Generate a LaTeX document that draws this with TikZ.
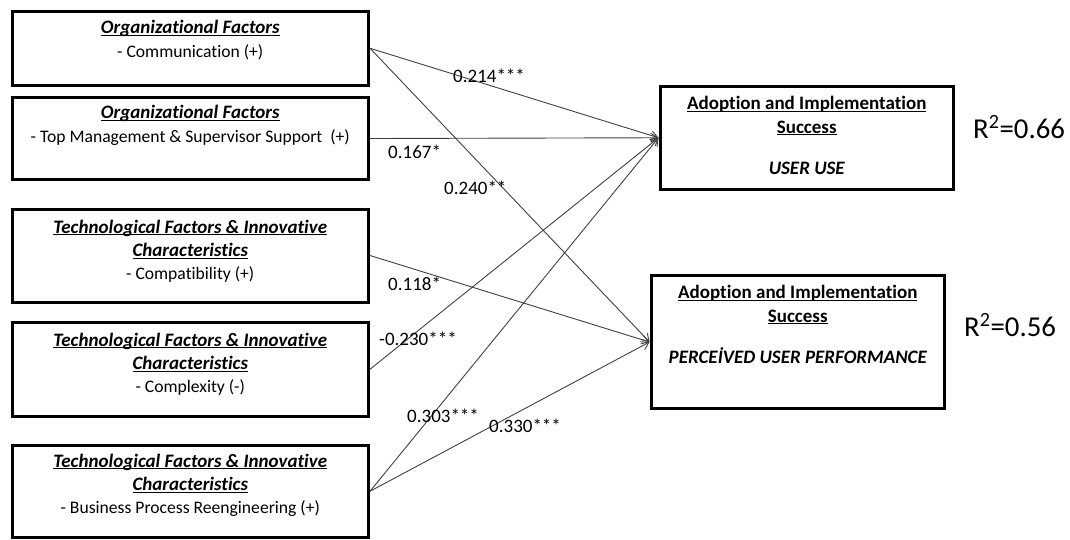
\documentclass[tikz,border=0pt]{standalone}
\usepackage{fontspec}
\setmainfont{Carlito}[Ligatures=NoCommon]
\usetikzlibrary{arrows.meta}

% underline drawn close to the baseline, crossing the descenders
\newcommand\undl[1]{\setbox0\hbox{#1}\rlap{\rule[-2.4pt]{\wd0}{1.1pt}}\box0}
\newcommand\factortitle[1]{\undl{\fontsize{19}{23.3}\selectfont\bfseries\itshape #1}}
\newcommand\outcometitle[1]{\undl{\fontsize{19}{23.3}\selectfont\bfseries #1}}

\begin{document}
\begin{tikzpicture}[x=1pt,y=-1pt]
\tikzset{
  factor/.style={draw, line width=3pt, minimum width=356.5pt, inner sep=0pt},
  outcome/.style={draw, line width=3pt, minimum width=293.5pt, inner sep=0pt},
  % anchored at the baseline of the last line of text
  boxtext/.style={anchor=base, align=center, inner sep=0pt,
    font=\fontsize{17.6}{23.3}\selectfont},
  effect/.style={draw=black!75, line width=0.9pt,
    -{Straight Barb[length=7pt,width=9pt]}},
  coef/.style={anchor=base west, inner sep=0pt, font=\fontsize{19}{23}\selectfont},
  rsq/.style={anchor=base west, inner sep=0pt, font=\fontsize{28.8}{34}\selectfont},
}
\useasboundingbox (0,0) rectangle (1070,539);

% antecedent factors
\node[factor, minimum height=74.5pt] (comm) at (190.25,48.25) {};
\node[factor, minimum height=82pt]   (tops) at (190.25,138.5) {};
\node[factor, minimum height=93pt]   (compat) at (190.25,255.5) {};
\node[factor, minimum height=93.5pt] (complex) at (190.25,369.25) {};
\node[factor, minimum height=92.5pt] (bpr) at (190.25,491.25) {};

% outcomes
\node[outcome, minimum height=102.5pt] (use) at (806.75,137.75) {};
\node[outcome, minimum height=133pt]   (perf) at (797.75,342) {};

% box texts
\node[boxtext] (commtxt) at (190.25,57) {\factortitle{Organizational Factors}\\- Communication (+)};
\node[boxtext] (topstxt) at (190.25,142) {\factortitle{Organizational Factors}\\- Top Management \& Supervisor Support~ (+)};
\node[boxtext] (compattxt) at (190.25,279.6) {\factortitle{Technological Factors \& Innovative}\\\factortitle{Characteristics}\\- Compatibility (+)};
\node[boxtext] (complextxt) at (190.25,392.6) {\factortitle{Technological Factors \& Innovative}\\\factortitle{Characteristics}\\- Complexity (-)};
\node[boxtext] (bprtxt) at (190.25,513.6) {\factortitle{Technological Factors \& Innovative}\\\factortitle{Characteristics}\\- Business Process Reengineering (+)};
\node[boxtext] (usetxt) at (806.75,174) {\outcometitle{Adoption and Implementation}\\\outcometitle{Success}\\[17.7pt]{\fontsize{19}{23.3}\selectfont\bfseries\itshape USER USE}};
\node[boxtext] (perftxt) at (797.75,363) {\outcometitle{Adoption and Implementation}\\\outcometitle{Success}\\[17.7pt]{\fontsize{19}{23.3}\selectfont\bfseries\itshape PERCEİVED USER PERFORMANCE}};

% paths
\draw[effect] (comm.east) -- (use.west);
\draw[effect] (comm.east) -- (perf.west);
\draw[effect] (tops.east) -- (use.west);
\draw[effect] (compat.east) -- (perf.west);
\draw[effect] (complex.east) -- (use.west);
\draw[effect] (bpr.east) -- (use.west);
\draw[effect] (bpr.east) -- (perf.west);

% path coefficients
\node[coef] (c1) at (453,82) {0.214***};
\node[coef] (c2) at (388,158) {0.167*};
\node[coef] (c3) at (444,194) {0.240**};
\node[coef] (c4) at (388,290) {0.118*};
\node[coef] (c5) at (379,345) {-0.230***};
\node[coef] (c6) at (407,422) {0.303***};
\node[coef] (c7) at (489,432) {0.330***};

% explained variance
\node[rsq] (r1) at (973,138) {R\textsuperscript{2}=0.66};
\node[rsq] (r2) at (964,336) {R\textsuperscript{2}=0.56};
\end{tikzpicture}
\end{document}
